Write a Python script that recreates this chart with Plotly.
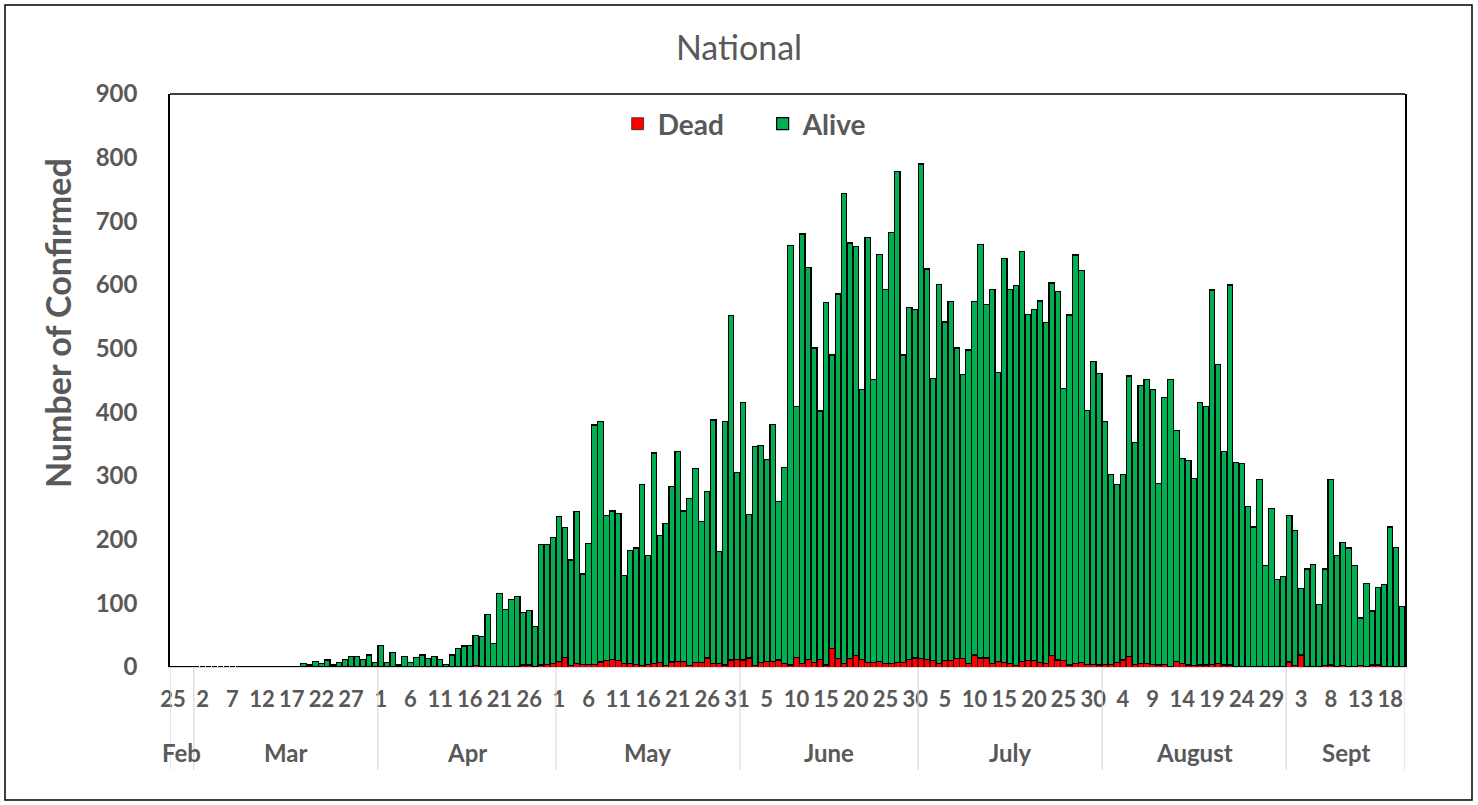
import plotly.graph_objects as go

# ---- data ----
confirmed = [
    0, 0, 0, 0, 0, 0, 0, 0, 0, 0, 0, 0, 1, 0, 0, 0, 0, 0, 0, 0,
    0, 1, 5, 3, 9, 5, 11, 3, 7, 12, 16, 16, 12, 19, 7, 34, 7, 23, 3, 16,
    7, 15, 19, 13, 16, 12, 4, 19, 29, 33, 34, 50, 48, 83, 37, 115, 90, 106, 111, 85,
    89, 63, 193, 192, 203, 237, 219, 168, 244, 146, 194, 380, 385, 238, 245, 241, 144, 183, 187, 287,
    175, 336, 207, 225, 284, 338, 245, 265, 312, 229, 276, 388, 181, 386, 552, 305, 415, 240, 346, 348,
    326, 381, 260, 313, 662, 409, 680, 627, 501, 402, 572, 490, 586, 744, 666, 660, 436, 674, 452, 648,
    593, 683, 778, 490, 565, 561, 790, 625, 453, 601, 542, 574, 501, 459, 498, 574, 663, 569, 593, 462,
    642, 593, 599, 652, 554, 561, 575, 541, 603, 590, 437, 553, 647, 623, 403, 480, 461, 385, 302, 287,
    302, 457, 353, 442, 452, 436, 288, 423, 452, 372, 328, 324, 296, 416, 409, 592, 475, 339, 600, 321,
    320, 252, 220, 295, 160, 249, 138, 142, 238, 215, 123, 154, 161, 98, 154, 295, 175, 196, 187, 159,
    77, 131, 88, 125, 130, 220, 188, 95,
]

dead = [
    0, 0, 0, 0, 0, 0, 0, 0, 0, 0, 0, 0, 0, 0, 0, 0, 0, 0, 0, 0,
    0, 0, 0, 0, 0, 0, 0, 0, 0, 0, 0, 0, 0, 0, 0, 0, 0, 0, 0, 0,
    0, 0, 0, 0, 0, 0, 0, 0, 0, 0, 0, 2, 0, 0, 0, 1, 1, 1, 1, 3,
    3, 1, 3, 4, 6, 9, 15, 2, 6, 4, 4, 4, 8, 10, 12, 10, 6, 6, 4, 2,
    4, 6, 7, 2, 8, 9, 9, 2, 7, 7, 14, 5, 5, 3, 11, 12, 11, 14, 2, 7,
    9, 9, 11, 5, 3, 15, 5, 12, 7, 12, 3, 29, 13, 5, 13, 18, 12, 7, 7, 9,
    6, 5, 7, 7, 12, 14, 13, 12, 10, 5, 10, 10, 13, 13, 5, 19, 14, 14, 5, 9,
    7, 5, 2, 9, 10, 10, 7, 6, 18, 11, 10, 3, 6, 7, 4, 4, 3, 4, 4, 7,
    11, 16, 4, 6, 6, 4, 3, 4, 1, 9, 6, 3, 2, 3, 3, 4, 6, 3, 3, 1,
    1, 1, 1, 1, 1, 1, 0, 0, 8, 2, 19, 0, 0, 0, 2, 3, 0, 2, 0, 0,
    2, 0, 3, 3, 0, 0, 0, 0,
]

tick_labels = ["25", "2", "7", "12", "17", "22", "27", "1", "6", "11", "16", "21", "26",
               "1", "6", "11", "16", "21", "26", "31", "5", "10", "15", "20", "25", "30",
               "5", "10", "15", "20", "25", "30", "4", "9", "14", "19", "24", "29",
               "3", "8", "13", "18"]
month_names = ["Feb", "Mar", "Apr", "May", "June", "July", "August", "Sept"]
month_days = [4, 31, 30, 31, 30, 31, 31, 20]

# ---- derived ----
x = list(range(len(confirmed)))
alive = [c - d for c, d in zip(confirmed, dead)]

GRAY = "#595959"
FONT = "Lato"

W, H = 1478, 805
L, R, T, B = 170, 1405, 94, 667


def px(xp):
    return (xp - L) / (R - L)


def py(yp):
    return (B - yp) / (B - T)


fig = go.Figure()
fig.add_trace(go.Bar(x=x, y=dead, name="Dead",
                     marker=dict(color="#FF0000", line=dict(color="black", width=0.6))))
fig.add_trace(go.Bar(x=x, y=alive, name="Alive",
                     marker=dict(color="#00B050", line=dict(color="black", width=1.2))))

shapes = []
# month separators below the axis
bounds = [0]
for d in month_days:
    bounds.append(bounds[-1] + d)
for b in bounds:
    shapes.append(dict(type="line", xref="x", yref="paper", x0=b - 0.5, x1=b - 0.5,
                       y0=0, y1=py(770), line=dict(color="#D9D9D9", width=1.2)))
# top border of plot area
shapes.append(dict(type="line", xref="paper", yref="paper", x0=0, x1=1, y0=1, y1=1,
                   line=dict(color="black", width=1.5)))
# outer chart border
shapes.append(dict(type="rect", xref="paper", yref="paper",
                   x0=px(5), x1=px(1472), y0=py(800), y1=py(5),
                   line=dict(color="black", width=1.5)))

annotations = []
for name, start, d in zip(month_names, bounds[:-1], month_days):
    annotations.append(dict(x=start + d / 2 - 0.5, y=py(753), xref="x", yref="paper",
                            xanchor="center", yanchor="middle",
                            text=name, showarrow=False,
                            font=dict(family=FONT, size=24, color=GRAY, weight="bold")))
annotations.append(dict(x=px(57), y=py(323), xref="paper", yref="paper",
                        xanchor="center", yanchor="middle",
                        text="Number of Confirmed", textangle=-90, showarrow=False,
                        font=dict(family=FONT, size=34, color=GRAY, weight="bold")))

fig.update_layout(
    width=W, height=H,
    margin=dict(l=L, r=W - R, t=T, b=H - B),
    paper_bgcolor="white", plot_bgcolor="white",
    barmode="stack", bargap=0.08,
    title=dict(text="National", x=0.5, xanchor="center", y=1 - 48 / H, yanchor="middle",
               font=dict(family=FONT, size=34, color=GRAY)),
    legend=dict(orientation="h", x=px(630) - 0.01, xanchor="left", y=py(124), yanchor="middle",
                traceorder="normal", entrywidth=100,
                font=dict(family=FONT, size=28, color=GRAY, weight="bold"),
                itemwidth=30, bgcolor="rgba(0,0,0,0)"),
    xaxis=dict(range=[-0.5, len(x) - 0.5], tickmode="array",
               tickvals=list(range(0, len(x), 5))[:len(tick_labels)], ticktext=tick_labels,
               tickfont=dict(family=FONT, size=22, color=GRAY, weight="bold"),
               showgrid=False, zeroline=False, showline=True, linecolor="#D9D9D9",
               linewidth=1.2, ticks="", ticklabelstandoff=12),
    yaxis=dict(range=[0, 900], dtick=100,
               tickfont=dict(family=FONT, size=24, color=GRAY, weight="bold"),
               showgrid=False, zeroline=False, showline=True, linecolor="black",
               linewidth=1.5, mirror=True, ticks="", ticklabelstandoff=26),
    shapes=shapes, annotations=annotations, showlegend=True,
)

fig.write_html("out.html", config={"displayModeBar": False},
               post_script="document.body.style.margin='0';document.body.style.overflow='hidden';")
